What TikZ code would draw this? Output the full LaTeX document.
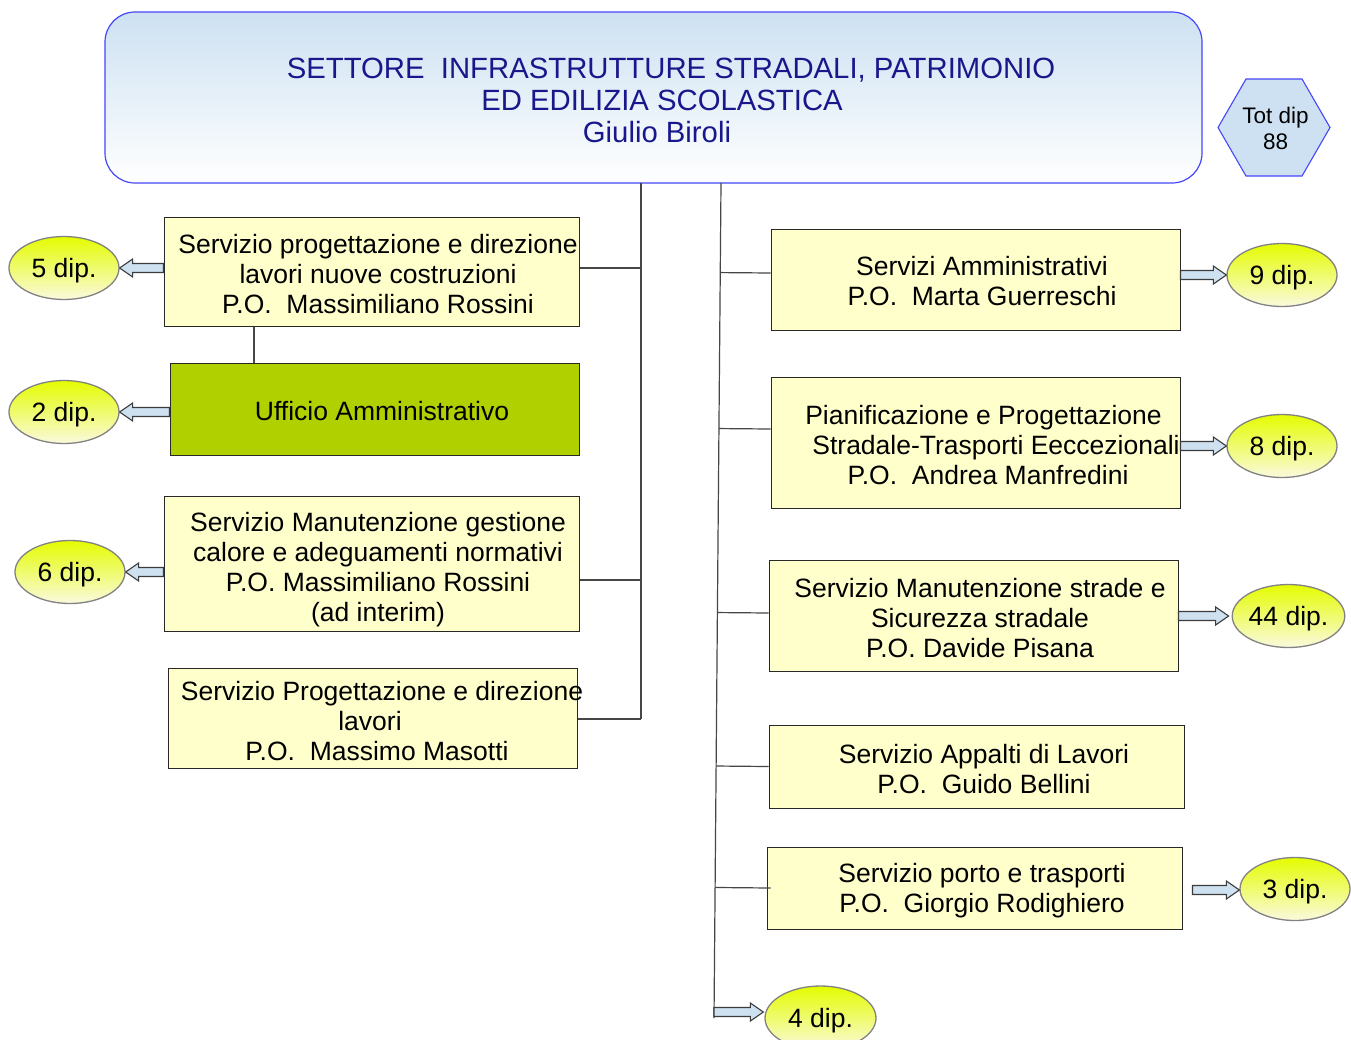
\documentclass[tikz,border=0pt]{standalone}
\usepackage{fontspec}
\setmainfont{Liberation Sans}
\usetikzlibrary{shapes.geometric,calc}
\definecolor{navy}{RGB}{24,24,140}
\definecolor{topblue}{RGB}{205,225,242}
\definecolor{bluebord}{RGB}{70,70,250}
\definecolor{boxfill}{RGB}{255,255,204}
\definecolor{boxline}{RGB}{40,40,40}
\definecolor{greenfill}{RGB}{176,208,0}
\definecolor{elltop}{RGB}{228,252,0}
\definecolor{ellbot}{RGB}{250,250,222}
\definecolor{ellline}{RGB}{130,130,130}
\definecolor{connc}{RGB}{70,70,70}
\definecolor{arrfill}{RGB}{205,225,240}
\definecolor{arrline}{RGB}{60,60,60}
\tikzset{
  box/.style={draw=boxline, fill=boxfill, line width=1pt, inner sep=0pt},
  txt/.style={align=center, font=\fontsize{26.5}{30}\selectfont, inner sep=0pt},
  dipnode/.style={ellipse, draw=ellline, line width=1.3pt, top color=elltop, bottom color=ellbot,
    minimum width=110, minimum height=63, inner sep=0pt, text depth=0pt, font=\fontsize{26.5}{30}\selectfont},
  conn/.style={draw=connc, line width=1.2pt},
  barrowst/.style={draw=arrline, fill=arrfill, line width=1.1pt, line join=miter},
}
\newcommand\blockarrow[2]{%
  \draw[barrowst] let \p1=(#1), \p2=(#2), \n1={ifthenelse(\x2>\x1,1,-1)} in
    (\x1,{\y1+4.5pt}) -- ({\x2-\n1*13pt},{\y1+4.5pt}) -- ({\x2-\n1*13pt},{\y1+9pt})
    -- (\x2,\y1) -- ({\x2-\n1*13pt},{\y1-9pt}) -- ({\x2-\n1*13pt},{\y1-4.5pt})
    -- (\x1,{\y1-4.5pt}) -- cycle;}
\begin{document}
\begin{tikzpicture}[x=1pt,y=-1pt]
\clip (0,0) rectangle (1351,1039);
\fill[white] (0,0) rectangle (1351,1039);

% top box
\node[draw=bluebord, line width=1.2pt, rounded corners=30pt, top color=topblue, bottom color=white,
  minimum width=1097, minimum height=171, inner sep=0pt] (top) at (653.5,97.5) {};
\node[txt, text=navy, font=\fontsize{29.3}{32}\selectfont] (tt) at (662,100)
  {\kern18pt SETTORE\ \ INFRASTRUTTURE STRADALI, PATRIMONIO\\ED EDILIZIA SCOLASTICA\\Giulio Biroli\kern10pt\relax};

% hexagon
\node[regular polygon, regular polygon sides=6, minimum size=112, inner sep=0pt,
  draw=bluebord, line width=1.1pt, fill=topblue] (tot) at (1274,127.5) {};
\node[align=center, inner sep=0pt, font=\fontsize{22.5}{26}\selectfont] (tott) at (1275.5,128.5) {Tot dip\\88};

% left boxes
\node[box, minimum width=415, minimum height=109] (lb1) at (371.5,271.5) {};
\node[txt] (lt1) at (378,274) {Servizio progettazione e direzione\\lavori nuove costruzioni\\P.O.\ \ Massimiliano Rossini};
\node[box, fill=greenfill, minimum width=409, minimum height=92] (lb2) at (374.5,409) {};
\node[txt] (lt2) at (382,411) {Ufficio Amministrativo};
\node[box, minimum width=415, minimum height=135] (lb3) at (371.5,563.5) {};
\node[txt] (lt3) at (378,569.5) {Servizio Manutenzione gestione\\calore e adeguamenti normativi\\P.O. Massimiliano Rossini\\(ad interim)};
\node[box, minimum width=409, minimum height=100] (lb4) at (372.5,718) {};
\node[txt] (lt4) at (382,721) {Servizio Progettazione e direzione\\lavori\kern24pt\relax\\P.O.\ \ Massimo Masotti\kern10pt\relax};

% right boxes
\node[box, minimum width=409, minimum height=101] (rb1) at (975.5,279.5) {};
\node[txt] (rt1) at (982,281.5) {Servizi Amministrativi\\P.O.\ \ Marta Guerreschi};
\node[box, minimum width=409, minimum height=131] (rb2) at (975.5,442.5) {};
\node[txt] (rt2) at (988,445) {Pianificazione e Progettazione\kern9pt\relax\\\kern16pt Stradale-Trasporti Eeccezionali\\P.O.\ \ Andrea Manfredini};
\node[box, minimum width=409, minimum height=111] (rb3) at (973.5,615.5) {};
\node[txt] (rt3) at (980,618) {Servizio Manutenzione strade e\\Sicurezza stradale\\P.O. Davide Pisana};
\node[box, minimum width=415, minimum height=83] (rb4) at (976.5,766.5) {};
\node[txt] (rt4) at (984,769) {Servizio Appalti di Lavori\\P.O.\ \ Guido Bellini};
\node[box, minimum width=415, minimum height=82] (rb5) at (974.5,888) {};
\node[txt] (rt5) at (982,890.5) {Servizio porto e trasporti\\P.O.\ \ Giorgio Rodighiero};

% ellipses
\node[dipnode] (e5) at (64,268) {5 dip.};
\node[dipnode] (e2) at (64,412) {2 dip.};
\node[dipnode] (e6) at (70,572) {6 dip.};
\node[dipnode] (e9) at (1282,275) {9 dip.};
\node[dipnode] (e8) at (1282,446) {8 dip.};
\node[dipnode, minimum width=111] (e44) at (1288.5,616) {44 dip.};
\node[dipnode] (e3) at (1295,889) {3 dip.};
\node[dipnode, minimum width=111, minimum height=64] (e4) at (820.5,1018) {4 dip.};

% left trunk and connectors
\coordinate (ltop) at (641,183);
\coordinate (c1) at ([yshift=3.5pt]lb1.east);
\coordinate (c3) at ([yshift=-16.5pt]lb3.east);
\coordinate (c4) at ([yshift=-1pt]lb4.east);
\draw[conn] (ltop) -- (ltop |- c4);
\draw[conn] (c1) -- (c1 -| ltop);
\draw[conn] (c3) -- (c3 -| ltop);
\draw[conn] (c4) -- (c4 -| ltop);
\coordinate (vx) at (254,0);
\draw[conn] (lb1.south -| vx) -- (lb2.north -| vx);

% right trunk and connectors
\coordinate (rtop) at (721,183);
\coordinate (rbot) at (714,1018);
\draw[conn] (rtop) -- (rbot);
\coordinate (d1) at ([yshift=6.5pt]rb1.west);
\coordinate (d2) at ([yshift=13.5pt]rb2.west);
\coordinate (d3) at ([yshift=2.5pt]rb3.west);
\coordinate (d4) at (rb4.west);
\coordinate (d5) at ([xshift=4pt]rb5.west);
\foreach \d in {d1,d2,d3,d4,d5} \draw[conn] (\d) -- ($(rtop)!(\d)!(rbot)$);

% block arrows
\blockarrow{lb1.west |- e5}{e5.east}
\blockarrow{lb2.west |- e2}{e2.east}
\blockarrow{lb3.west |- e6}{e6.east}
\blockarrow{rb1.east |- e9}{e9.west}
\blockarrow{rb2.east |- e8}{e8.west}
\blockarrow{rb3.east |- e44}{[xshift=-3pt]e44.west}
\coordinate (a3) at ($(rb5.east |- e3)+(10,1)$);
\blockarrow{a3}{e3.west |- a3}
\coordinate (a4) at (714,1012);
\blockarrow{a4}{[xshift=-1pt]a4 -| e4.west}
\end{tikzpicture}
\end{document}
